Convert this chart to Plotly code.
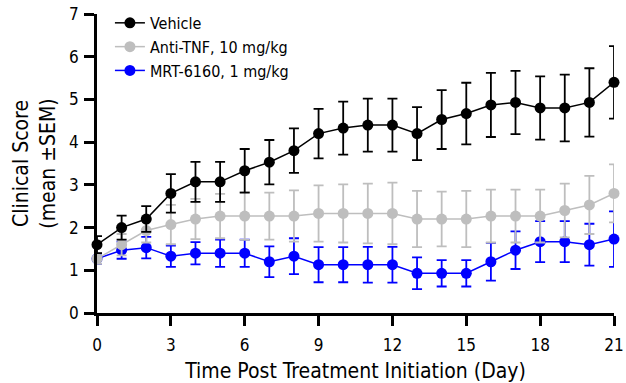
import plotly.graph_objects as go

# Study days
days = list(range(22))

# Clinical score, mean and SEM per group
vehicle_mean = [1.60, 2.00, 2.20, 2.80, 3.07, 3.07, 3.33, 3.53, 3.80, 4.20, 4.33,
                4.40, 4.40, 4.20, 4.53, 4.67, 4.87, 4.93, 4.80, 4.80, 4.93, 5.40]
vehicle_sem = [0.20, 0.28, 0.30, 0.45, 0.47, 0.47, 0.51, 0.52, 0.52, 0.58, 0.62,
               0.62, 0.62, 0.62, 0.69, 0.72, 0.75, 0.74, 0.74, 0.78, 0.80, 0.85]

antitnf_mean = [1.27, 1.60, 1.93, 2.07, 2.20, 2.27, 2.27, 2.27, 2.27, 2.33, 2.33,
                2.33, 2.33, 2.20, 2.20, 2.20, 2.27, 2.27, 2.27, 2.40, 2.53, 2.80]
antitnf_sem = [0.12, 0.25, 0.28, 0.46, 0.47, 0.52, 0.56, 0.55, 0.60, 0.66, 0.68,
               0.70, 0.72, 0.66, 0.64, 0.66, 0.62, 0.62, 0.62, 0.63, 0.68, 0.68]

mrt_mean = [1.27, 1.47, 1.53, 1.33, 1.40, 1.40, 1.40, 1.20, 1.33, 1.13, 1.13,
            1.13, 1.13, 0.93, 0.93, 0.93, 1.20, 1.47, 1.67, 1.67, 1.60, 1.73]
mrt_sem = [0.12, 0.20, 0.25, 0.25, 0.26, 0.32, 0.32, 0.36, 0.42, 0.41, 0.41,
           0.42, 0.42, 0.37, 0.31, 0.31, 0.44, 0.44, 0.48, 0.48, 0.49, 0.65]

x_ticks = [0, 3, 6, 9, 12, 15, 18, 21]
y_ticks = [0, 1, 2, 3, 4, 5, 6, 7]

FONT = "DejaVu Sans Condensed, DejaVu Sans, sans-serif"

groups = [
    ("MRT-6160, 1 mg/kg", mrt_mean, mrt_sem, "#0000FF"),
    ("Anti-TNF, 10 mg/kg", antitnf_mean, antitnf_sem, "#BEBEBE"),
    ("Vehicle", vehicle_mean, vehicle_sem, "#000000"),
]

fig = go.Figure()
for name, mean, sem, color in groups:
    fig.add_trace(go.Scatter(
        x=days, y=mean, name=name, mode="lines+markers",
        line=dict(color=color, width=1.5),
        marker=dict(color=color, size=11),
        error_y=dict(type="data", array=sem, visible=True,
                     color=color, thickness=1.8, width=5),
        cliponaxis=False,
    ))

fig.update_layout(
    width=626, height=383,
    margin=dict(l=97, r=12, t=14, b=69.5, autoexpand=False),
    plot_bgcolor="white", paper_bgcolor="white",
    font=dict(family=FONT, color="black", size=16),
    showlegend=True,
    legend=dict(
        traceorder="reversed",
        x=0.025, y=1.027, xanchor="left", yanchor="top",
        font=dict(size=16, family=FONT),
        bgcolor="rgba(0,0,0,0)",
        itemwidth=30, tracegroupgap=0,
    ),
    xaxis=dict(
        range=[0, 21], tickvals=x_ticks, ticktext=[str(v) for v in x_ticks],
        showgrid=False, zeroline=False, automargin=False,
        showline=True, linecolor="black", linewidth=2.5,
        ticks="outside", ticklen=10, tickwidth=2.5, tickcolor="black",
        tickfont=dict(size=17), ticklabelstandoff=5,
        title=dict(text="Time Post Treatment Initiation (Day)",
                   font=dict(size=21), standoff=14),
    ),
    yaxis=dict(
        range=[0, 7], tickvals=y_ticks,
        showgrid=False, zeroline=False, automargin=False,
        showline=True, linecolor="black", linewidth=2.5,
        ticks="outside", ticklen=10, tickwidth=2.5, tickcolor="black",
        tickfont=dict(size=17), ticklabelstandoff=2,
        title=dict(text="Clinical Score<br>(mean ±SEM)",
                   font=dict(size=21), standoff=8),
    ),
)

fig.write_html("out.html")
